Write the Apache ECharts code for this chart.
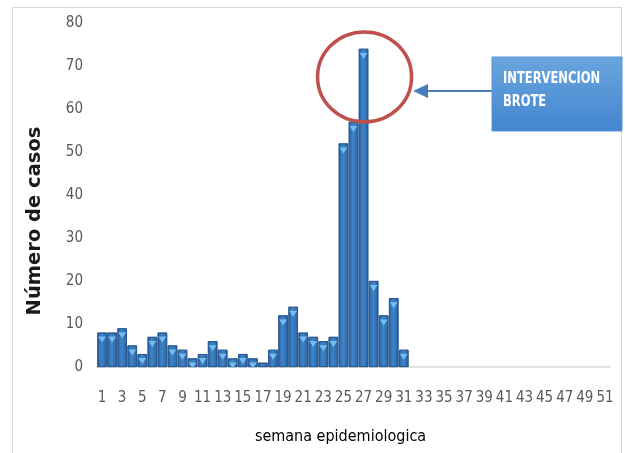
<!DOCTYPE html>
<html>
<head>
<meta charset="utf-8">
<script src="https://cdn.jsdelivr.net/npm/echarts@6/dist/echarts.min.js"></script>
<style>html,body{margin:0;padding:0;background:#fff}#c{width:625px;height:453px}</style>
</head>
<body>
<div id="c"></div>
<script>
var weeks = [];
for (var i = 1; i <= 51; i++) weeks.push(String(i));
var casos = [8,8,9,5,3,7,8,5,4,2,3,6,4,2,3,2,1,4,12,14,8,7,6,7,52,57,74,20,12,16,4,
  null,null,null,null,null,null,null,null,null,null,null,null,null,null,null,null,null,null,null,null];
var yTicks = [0, 80, 10];
var annotationText = 'INTERVENCION\nBROTE';
var yName = 'Número de casos';
var xName = 'semana epidemiologica';
var peakWeek = '27';
var circleValue = 67;

var font = "'Liberation Sans Narrow','Arial Narrow','DejaVu Sans Condensed',sans-serif";
var triangles = casos.map(function (v) { return v != null && v >= 2 ? v : null; });
var chart = echarts.init(document.getElementById('c'), null, {renderer: 'canvas'});
var option = {
  animation: false,
  backgroundColor: '#ffffff',
  grid: {left: 97, right: 15, top: 23, bottom: 86},
  xAxis: {
    type: 'category',
    data: weeks,
    axisLine: {lineStyle: {color: '#d9d9d9', width: 1.5}},
    axisTick: {show: false},
    axisLabel: {interval: 1, color: '#595959', fontSize: 15, fontFamily: font, margin: 24},
    name: xName,
    nameLocation: 'middle',
    nameGap: 62,
    nameTextStyle: {color: '#000', fontSize: 16, fontFamily: font, padding: [0, 26, 0, 0]}
  },
  yAxis: {
    type: 'value',
    min: yTicks[0], max: yTicks[1], interval: yTicks[2],
    axisLine: {show: false},
    axisTick: {show: false},
    splitLine: {show: false},
    axisLabel: {color: '#595959', fontSize: 15, fontFamily: font, margin: 14},
    name: yName,
    nameLocation: 'middle',
    nameGap: 52,
    nameTextStyle: {color: '#1a1a1a', fontSize: 19.5, fontWeight: 'bold', fontFamily: "'DejaVu Sans',sans-serif", padding: [0, 52, 0, 0]}
  },
  series: [
    {
      type: 'bar',
      data: casos,
      barWidth: '94%',
      barGap: '-100%',
      itemStyle: {
        color: new echarts.graphic.LinearGradient(0, 0, 1, 0, [
          {offset: 0, color: '#2a62a3'},
          {offset: 0.45, color: '#3f85c9'},
          {offset: 1, color: '#2a62a3'}
        ]),
        borderColor: '#1e4f85',
        borderWidth: 0.7
      }
    },
    {
      type: 'pictorialBar',
      data: triangles,
      barGap: '-100%',
      barWidth: '94%',
      symbol: 'triangle',
      symbolRotate: 180,
      symbolSize: [8, 6],
      symbolPosition: 'end',
      symbolOffset: [0, 4],
      z: 5,
      itemStyle: {color: '#73bdf2'},
      silent: true
    }
  ],
  graphic: []
};
chart.setOption(option);

var c = chart.convertToPixel({xAxisIndex: 0, yAxisIndex: 0}, [peakWeek, circleValue]);
chart.setOption({
  graphic: [
    {type: 'rect', shape: {x: 12.5, y: 7.5, width: 609, height: 460}, style: {fill: 'none', stroke: '#d9d9d9', lineWidth: 1}, z: 0},
    {type: 'ellipse', shape: {cx: c[0] + 1, cy: c[1] - 2, rx: 47, ry: 45}, style: {fill: 'none', stroke: '#c0504d', lineWidth: 3.5}, z: 10},
    {type: 'line', shape: {x1: 492, y1: 91, x2: 425, y2: 91}, style: {stroke: '#4a7ebb', lineWidth: 2}, z: 10},
    {type: 'polygon', shape: {points: [[413, 91], [428, 84], [428, 98]]}, style: {fill: '#4a7ebb'}, z: 10},
    {type: 'rect', shape: {x: 492, y: 57, width: 130, height: 74},
      style: {fill: new echarts.graphic.LinearGradient(0, 0, 0, 1, [
        {offset: 0, color: '#6aa6de'}, {offset: 1, color: '#4285cf'}]), stroke: '#5a93d2', lineWidth: 1}, z: 10},
    {type: 'text', x: 503, y: 67, scaleX: 0.8, style: {text: annotationText, fill: '#ffffff', font: "bold 16px " + font, lineHeight: 23}, z: 11}
  ]
});
</script>
</body>
</html>
